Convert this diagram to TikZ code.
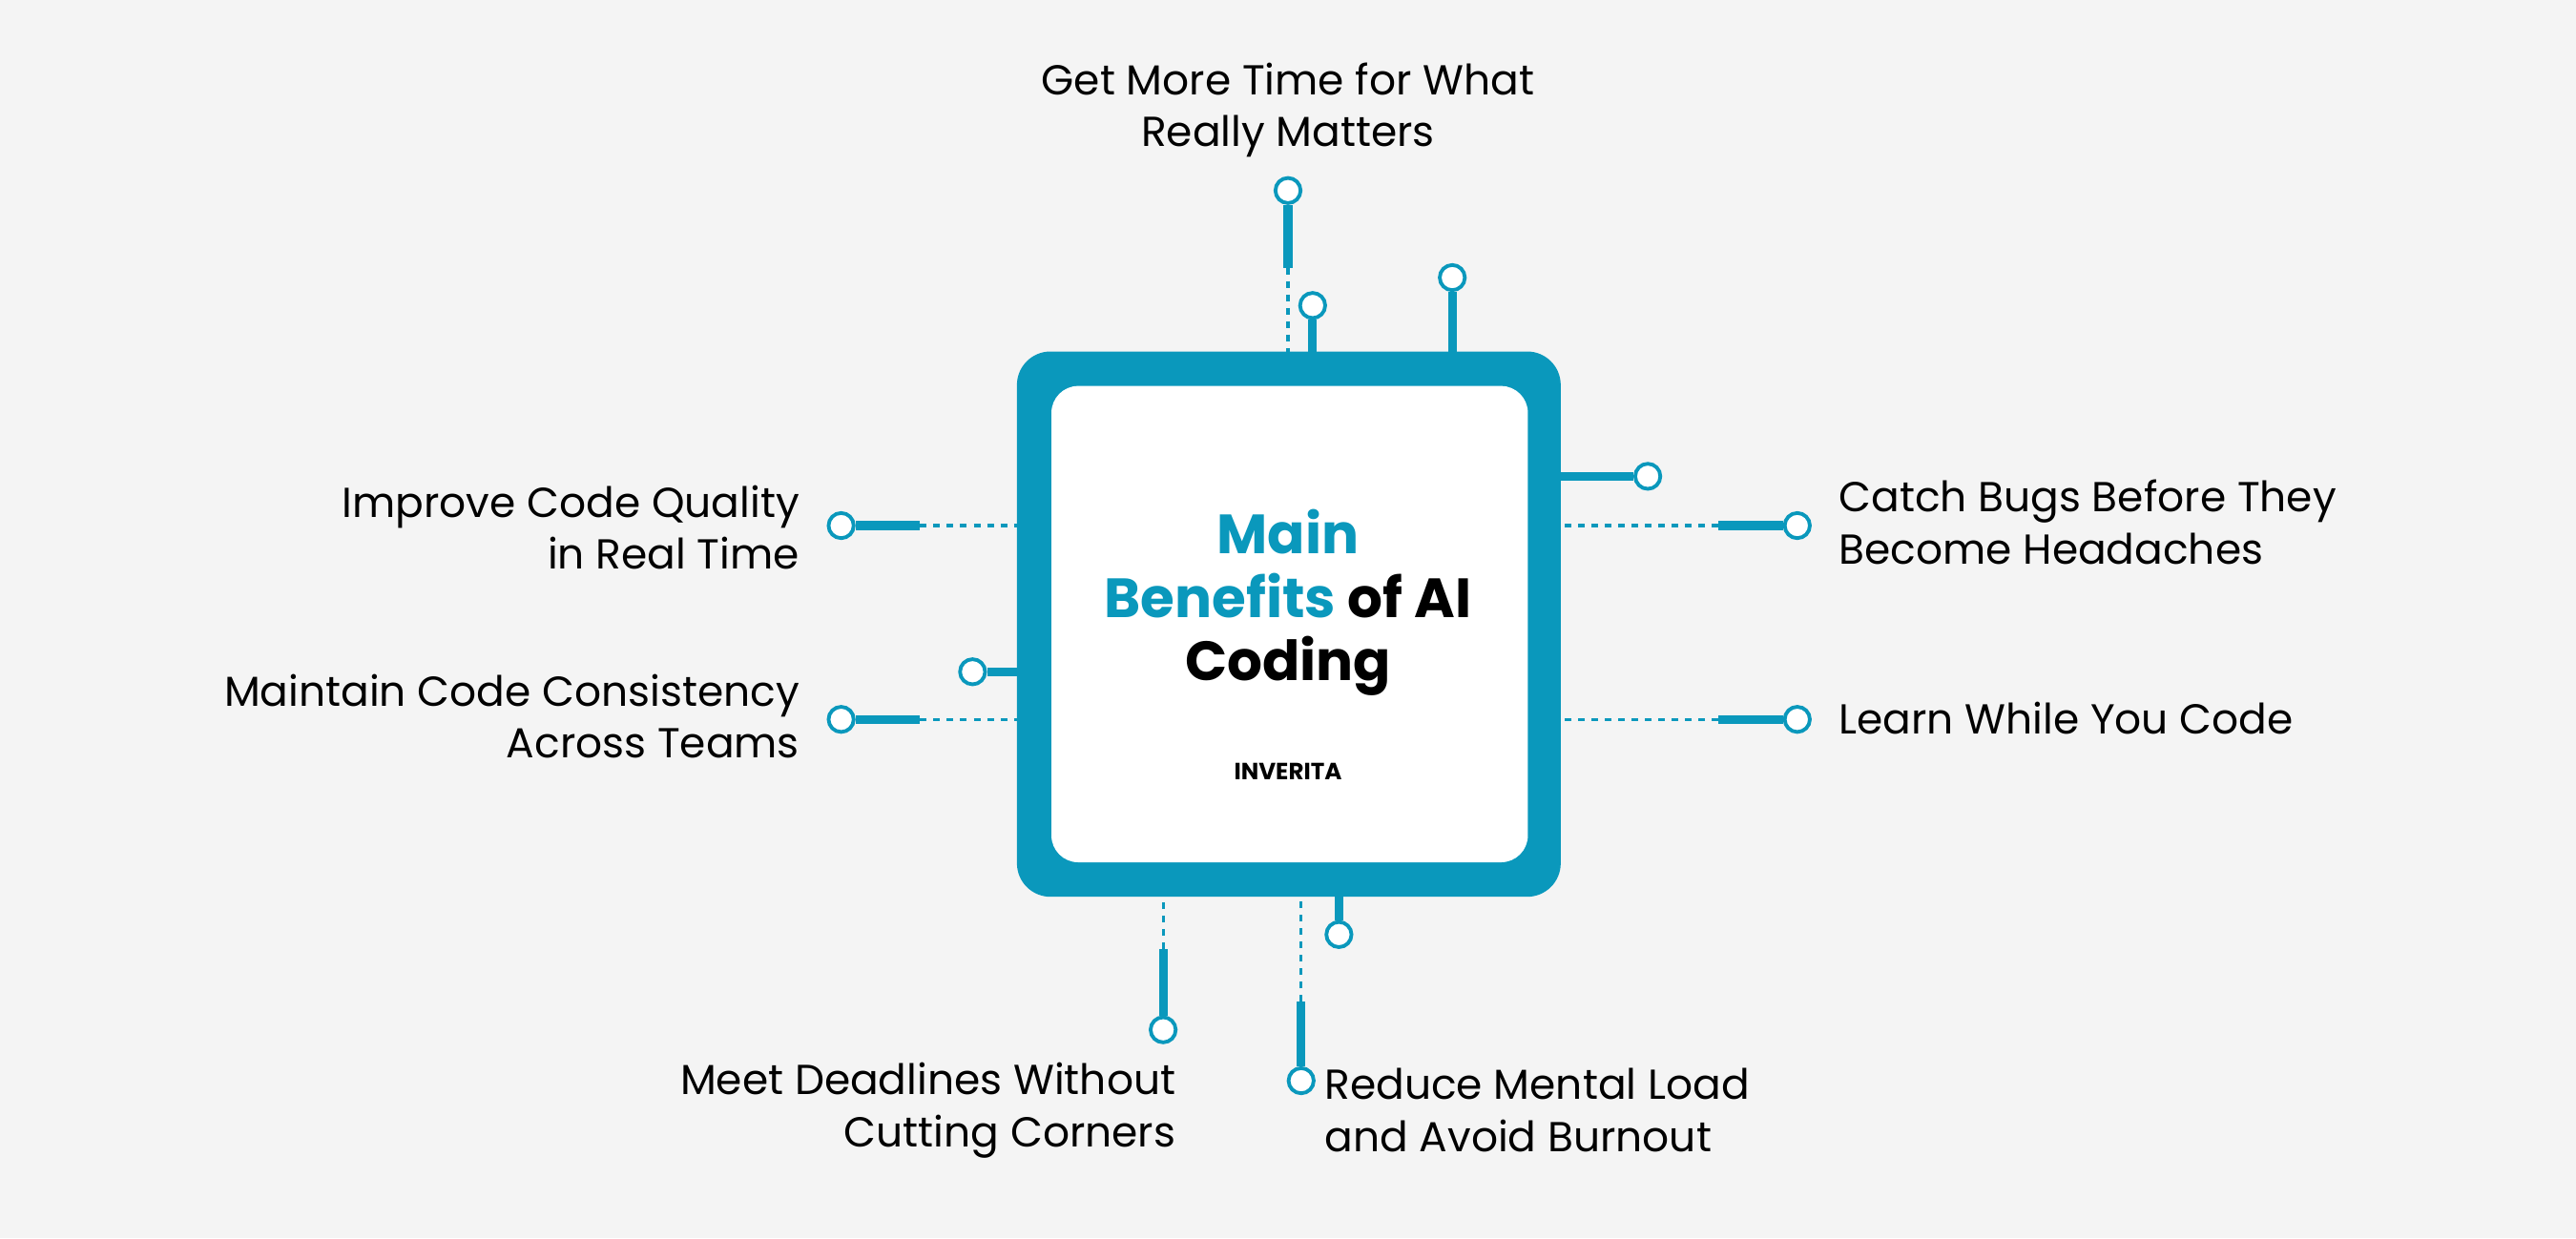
\documentclass[tikz,border=0pt]{standalone}
\usepackage{fontspec}
\setmainfont{Poppins}
\usetikzlibrary{positioning}
\definecolor{teal}{HTML}{0A98BC}
\definecolor{bg}{HTML}{F4F4F4}
\tikzset{
  pin/.style={circle,draw=teal,fill=white,line width=1.1pt,minimum size=7.5pt,inner sep=0pt},
  lead/.style={teal,line width=2.6pt},
  trace/.style={teal,line width=0.9pt,dash pattern=on 2pt off 2pt},
  lbl/.style={font=\fontsize{12.5}{15.5}\selectfont,inner sep=0pt}
}
\begin{document}
\begin{tikzpicture}[x=0.01722cm,y=-0.01722cm]
\fill[bg] (0,0) rectangle (1568,754);
\useasboundingbox (0,0) rectangle (1568,754);
% chip
\fill[teal,rounded corners=10pt] (619,214) rectangle (950,546);
\fill[white,rounded corners=8pt] (640,235) rectangle (930,525);
\node[font=\bfseries\fontsize{16.5}{19}\selectfont,align=center] (title) at (784,367)
  {\textcolor{teal}{Main}\\\textcolor{teal}{Benefits} of AI\\Coding};
\node[font=\bfseries\fontsize{7}{8}\selectfont] (logo) at (784,470) {INVERITA};
% top
\node[pin] (t1) at (784,116) {};
\draw[lead] (t1) -- (784,163);
\draw[trace] (784,163) -- (784,214);
\node[pin] (t2) at (799,186) {};
\draw[lead] (t2) -- (799,214);
\node[pin] (t3) at (884,169) {};
\draw[lead] (t3) -- (884,214);
% right
\node[pin] (r1) at (1003,290) {};
\draw[lead] (r1) -- (950,290);
\node[pin] (r2) at (1094,320) {};
\draw[lead] (r2) -- (1046,320);
\draw[trace] (1046,320) -- (950,320);
\node[pin] (r3) at (1094,438) {};
\draw[lead] (r3) -- (1046,438);
\draw[trace] (1046,438) -- (950,438);
% left
\node[pin] (l1) at (512,320) {};
\draw[lead] (l1) -- (560,320);
\draw[trace] (560,320) -- (619,320);
\node[pin] (l2) at (592,409) {};
\draw[lead] (l2) -- (619,409);
\node[pin] (l3) at (512,438) {};
\draw[lead] (l3) -- (560,438);
\draw[trace] (560,438) -- (619,438);
% bottom
\node[pin] (b1) at (708,627) {};
\draw[lead] (b1) -- (708,578);
\draw[trace] (708,578) -- (708,546);
\node[pin] (b2) at (815,569) {};
\draw[lead] (b2) -- (815,546);
\node[pin] (b3) at (792,658) {};
\draw[lead] (b3) -- (792,610);
\draw[trace] (792,610) -- (792,546);
% labels
\node[lbl,align=center] (lt) at (784,67) {Get More Time for What\\Really Matters};
\node[lbl,align=right,anchor=east] (ll1) at (487,321) {Improve Code Quality\\in Real Time};
\node[lbl,align=right,anchor=east] (ll3) at (487,436) {Maintain Code Consistency\\Across Teams};
\node[lbl,align=left,anchor=west] (lr2) at (1119,318) {Catch Bugs Before They\\Become Headaches};
\node[lbl,align=left,anchor=west] (lr3) at (1119,437) {Learn While You Code};
\node[lbl,align=right,anchor=east] (lb1) at (716,676) {Meet Deadlines Without\\Cutting Corners};
\node[lbl,align=left,anchor=west] (lb3) at (806,676) {Reduce Mental Load\\and Avoid Burnout};
\end{tikzpicture}
\end{document}
